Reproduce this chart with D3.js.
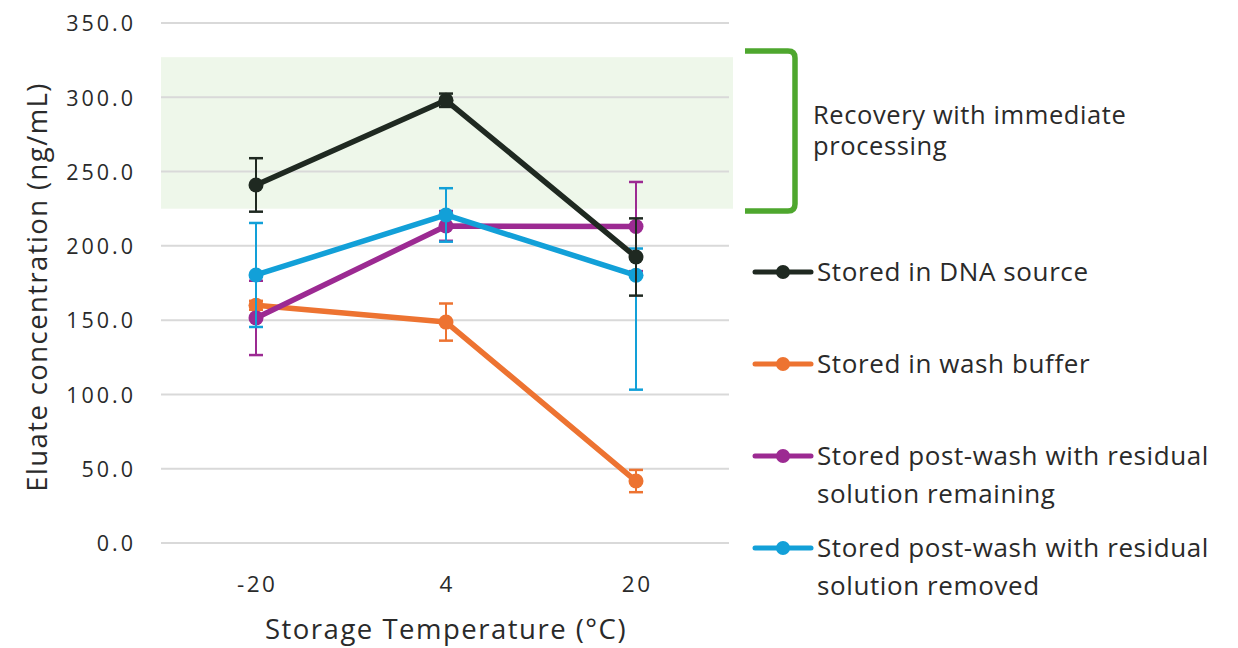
<!DOCTYPE html>
<html><head><meta charset="utf-8">
<script src="https://cdn.jsdelivr.net/npm/d3@7"></script>
<style>body{margin:0;background:#fff;}svg{display:block;font-family:"Open Sans",Lato,sans-serif;}</style>
</head><body><svg id="c" width="1238" height="648"></svg>
<script>
const categories = ["-20", "4", "20"];
const yTicks = [0, 50, 100, 150, 200, 250, 300, 350];
const seriesNames = ["Stored in DNA source", "Stored in wash buffer", "Stored post-wash with residual|solution remaining", "Stored post-wash with residual|solution removed"];
const seriesColors = ["#1f2921", "#ed7331", "#9c2a92", "#12a0d8"];
const dnaSource = [241, 298, 192.5];
const dnaSourcePlus = [18, 4.5, 26];
const dnaSourceMinus = [18, 4.5, 26];
const washBuffer = [160, 148.7, 41.7];
const washBufferPlus = [3, 12.5, 7.5];
const washBufferMinus = [3, 12.5, 7.5];
const residualRemaining = [151.5, 213.4, 213];
const residualRemainingPlus = [25, 10, 30];
const residualRemainingMinus = [25, 10, 30];
const residualRemoved = [180.4, 220.8, 180.2];
const residualRemovedPlus = [35, 18, 18];
const residualRemovedMinus = [35, 18, 77];
const bandRange = [225, 327];
const bandLabel = ["Recovery with immediate", "processing"];
const xTitle = "Storage Temperature (°C)";
const yTitle = "Eluate concentration (ng/mL)";

const series = [
  {name: seriesNames[0], color: seriesColors[0], v: dnaSource, p: dnaSourcePlus, m: dnaSourceMinus},
  {name: seriesNames[1], color: seriesColors[1], v: washBuffer, p: washBufferPlus, m: washBufferMinus},
  {name: seriesNames[2], color: seriesColors[2], v: residualRemaining, p: residualRemainingPlus, m: residualRemainingMinus},
  {name: seriesNames[3], color: seriesColors[3], v: residualRemoved, p: residualRemovedPlus, m: residualRemovedMinus}
];

const svg = d3.select("#c");
const x = d3.scaleBand().domain(categories).range([161, 731]);
const y = d3.scaleLinear().domain([0, 350]).range([543, 23]);
const cx = c => x(c) + x.bandwidth() / 2;
const txt = "#2a2a2a";

// band
svg.append("rect").attr("x", 161).attr("width", 572)
  .attr("y", y(bandRange[1])).attr("height", y(bandRange[0]) - y(bandRange[1]))
  .attr("fill", "#eef7ea");

// grid
svg.append("g").selectAll("line").data(yTicks).join("line")
  .attr("x1", 161).attr("x2", 729).attr("y1", d => y(d)).attr("y2", d => y(d))
  .attr("stroke", "#d9d9d9").attr("stroke-width", 2);

// y axis labels
const yAxis = d3.axisLeft(y).tickValues(yTicks).tickFormat(d3.format(".1f")).tickSize(0).tickPadding(0);
const ya = svg.append("g").attr("transform", "translate(136,0)").call(yAxis);
ya.select(".domain").remove();
ya.selectAll("text").attr("font-size", 21.5).attr("letter-spacing", 3).attr("fill", txt)
  .attr("font-family", "'Open Sans',sans-serif").attr("dy", "0.36em");

// x axis labels
const xAxis = d3.axisBottom(x).tickSize(0).tickPadding(0);
const xa = svg.append("g").attr("transform", "translate(0,592)").call(xAxis);
xa.select(".domain").remove();
xa.selectAll("text").attr("font-size", 22.5).attr("letter-spacing", 2.5).attr("fill", txt)
  .attr("font-family", "'Open Sans',sans-serif").attr("dy", 0).attr("dx", 1.2);

svg.append("text").attr("x", 446).attr("y", 639).attr("text-anchor", "middle")
  .attr("font-size", 27.5).attr("letter-spacing", 1.5).attr("fill", txt).text(xTitle);
svg.append("text").attr("transform", "translate(47,287) rotate(-90)").attr("text-anchor", "middle")
  .attr("font-size", 27.5).attr("letter-spacing", 1.4).attr("fill", txt).text(yTitle);

// series drawing order
const order = [1, 2, 3, 0];
const line = d3.line().x((d, i) => cx(categories[i])).y(d => y(d));
order.forEach(k => {
  const s = series[k];
  const g = svg.append("g");
  g.append("path").attr("d", line(s.v)).attr("fill", "none").attr("stroke", s.color)
    .attr("stroke-width", 5.5).attr("stroke-linejoin", "round");
  s.v.forEach((v, i) => {
    const X = cx(categories[i]);
    const top = y(v + s.p[i]), bot = y(v - s.m[i]);
    g.append("line").attr("x1", X).attr("x2", X).attr("y1", top).attr("y2", bot).attr("stroke", s.color).attr("stroke-width", 2);
    [top, bot].forEach(yy => g.append("line").attr("x1", X - 7).attr("x2", X + 7).attr("y1", yy).attr("y2", yy).attr("stroke", s.color).attr("stroke-width", 2.5));
  });
  g.selectAll("circle").data(s.v).join("circle")
    .attr("cx", (d, i) => cx(categories[i])).attr("cy", d => y(d)).attr("r", 7.5).attr("fill", s.color);
});

// bracket
svg.append("path").attr("d", "M745,51 L788,51 Q795,51 795,58 L795,204 Q795,211 788,211 L745,211")
  .attr("fill", "none").attr("stroke", "#4ea72e").attr("stroke-width", 5.5);
bandLabel.forEach((t, i) => svg.append("text").attr("x", 813).attr("y", 124 + i * 31)
  .attr("font-size", 25.5).attr("letter-spacing", 0.6).attr("fill", txt).text(t));

// legend
const legY = [272, 364, 456, 548];
series.forEach((s, k) => {
  const g = svg.append("g").attr("transform", `translate(0,${legY[k]})`);
  g.append("line").attr("x1", 755).attr("x2", 811).attr("stroke", s.color).attr("stroke-width", 5).attr("stroke-linecap", "round");
  g.append("circle").attr("cx", 783).attr("r", 7).attr("fill", s.color);
  s.name.split("|").forEach((t, j) => g.append("text").attr("x", 817).attr("y", j * 38).attr("dy", "0.35em")
    .attr("font-size", 26).attr("letter-spacing", 0.6).attr("fill", txt).text(t));
});
</script></body></html>
